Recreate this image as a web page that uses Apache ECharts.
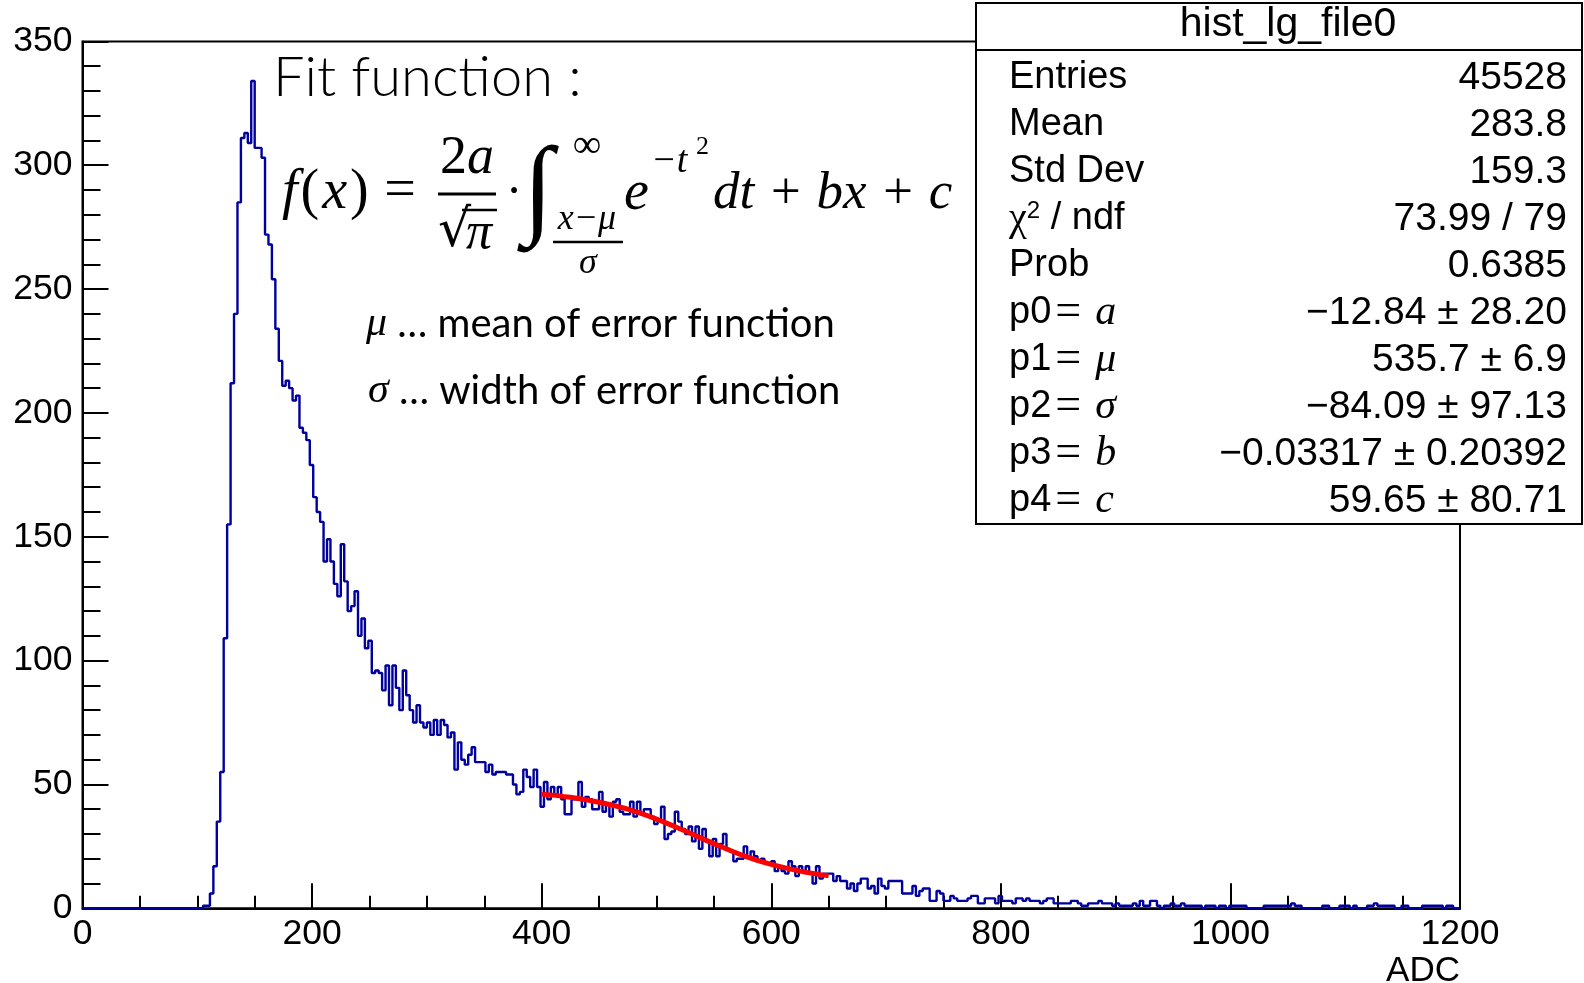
<!DOCTYPE html>
<html>
<head>
<meta charset="utf-8">
<script src="https://cdn.jsdelivr.net/npm/echarts@6/dist/echarts.min.js"></script>
<style>
  html, body { margin: 0; padding: 0; background: #fff; }
  #chart { width: 1584px; height: 983px; }
</style>
</head>
<body>
<div id="chart"></div>
<script>
// histogram: 400 bins of 3 ADC counts each
const binStart = 0
const binWidth = 3
const counts = [
  0,0,0,0,0,0,0,0,0,0,0,0,0,0,0,0,0,0,0,0,
  0,0,0,0,0,0,0,0,0,0,0,0,0,0,0,1,1,6,17,35,
  55,109,155,212,240,285,311,313,309,334,307,307,303,272,268,254,234,221,211,213,
  210,205,207,194,192,189,179,166,160,156,140,149,140,131,126,147,132,120,122,128,
  110,117,105,108,95,96,95,88,98,82,98,89,80,96,86,80,75,82,75,73,
  75,70,76,70,76,74,69,71,56,67,60,58,62,65,59,59,59,55,58,54,
  55,55,55,54,54,50,46,47,56,53,49,56,49,41,51,44,49,46,49,44,
  38,38,44,44,51,41,45,44,40,40,47,39,42,37,43,44,39,38,38,43,
  37,43,38,40,40,37,34,36,41,28,30,31,39,35,32,30,33,27,33,24,
  32,27,21,28,21,26,30,24,23,19,20,20,25,21,23,21,19,20,18,18,
  19,15,17,15,14,19,17,13,17,15,17,14,10,17,12,14,14,14,11,13,
  11,11,8,10,7,10,12,12,8,9,6,12,9,8,11,11,11,11,6,6,
  6,9,5,7,8,8,3,3,7,6,3,3,5,4,3,3,3,4,5,5,
  2,2,4,4,4,2,5,3,3,3,2,4,4,3,4,3,3,3,2,3,
  4,4,2,2,2,2,2,3,3,2,1,1,2,2,2,3,2,2,2,1,
  2,1,1,1,1,2,1,3,1,1,3,3,1,0,1,1,2,1,1,2,
  1,1,1,1,1,0,1,1,1,0,1,1,0,1,1,1,1,1,0,0,
  0,0,0,1,1,1,1,1,1,1,1,2,1,1,0,0,0,0,0,0,
  1,1,0,0,0,1,1,1,0,1,0,0,0,1,1,2,1,1,1,1,
  1,0,0,1,1,0,0,0,0,1,1,1,1,1,1,0,1,1,0,0
]

// red fit curve, read at every 25 ADC
const fitX = [400, 425, 450, 475, 500, 525, 550, 575, 600, 625, 650]
const fitY = [46.1, 44.8, 42.8, 40.0, 36.0, 31.2, 26.1, 21.4, 17.7, 15.0, 13.1]

// axes
const xMin = 0, xMax = 1200, xStep = 200
const yMin = 0, yMax = 350, yStep = 50

// stat box
const statTitle = 'hist_lg_file0'
const statLabels = ['Entries', 'Mean', 'Std Dev', '{chi|χ}{sup|2} / ndf', 'Prob',
  'p0{eq|=}{it|a}', 'p1{eq|=}{it|μ}', 'p2{eq|=}{it|σ}', 'p3{eq|=}{it|b}', 'p4{eq|=}{it|c}']
const statValues = ['45528', '283.8', '159.3', '73.99 / 79', '0.6385',
  '−12.84 ± 28.20', '535.7 ± 6.9', '−84.09 ± 97.13', '−0.03317 ± 0.20392', '59.65 ± 80.71']

const chart = echarts.init(document.getElementById('chart'))

const histData = counts.map((v, i) => [binStart + i * binWidth, v])
histData.push([binStart + counts.length * binWidth, counts[counts.length - 1]])
const fitData = fitX.map((x, i) => [x, fitY[i]])

const SANS = 'Liberation Sans'
const SERIF = 'Liberation Serif'

function txt(x, y, text, size, extra) {
  return {
    type: 'text', x: x, y: y, z: 50,
    style: Object.assign({
      text: text, fontSize: size, fontFamily: SERIF, fill: '#000',
      align: 'left', verticalAlign: 'middle'
    }, extra || {})
  }
}
function hline(x1, x2, y, w) {
  return { type: 'line', z: 50, shape: { x1: x1, y1: y, x2: x2, y2: y }, style: { stroke: '#000', lineWidth: w } }
}

const graphics = []

// stat box
graphics.push({ type: 'rect', z: 100, shape: { x: 976, y: 3, width: 606, height: 521 },
  style: { fill: '#fff', stroke: '#000', lineWidth: 2 } })
graphics.push(Object.assign(hline(976, 1582, 50, 2), { z: 101 }))
graphics.push(Object.assign(txt(1288, 25, statTitle, 41, { fontFamily: SANS, align: 'center' }), { z: 101 }))
const statRich = {
  chi: { fontFamily: SERIF, fontSize: 40 },
  sup: { fontFamily: SANS, fontSize: 24, verticalAlign: 'top', padding: [0, 0, 14, 0] },
  eq: { fontFamily: SERIF, fontSize: 46, padding: [0, 14, 0, 4] },
  it: { fontFamily: SERIF, fontSize: 42, fontStyle: 'italic' }
}
statLabels.forEach((lab, k) => {
  const y = 78 + k * 47
  graphics.push(Object.assign(txt(1009, y, lab, 38, { fontFamily: SANS, rich: statRich }), { z: 101 }))
  graphics.push(Object.assign(txt(1567, y, statValues[k], 39, { fontFamily: SANS, align: 'right' }), { z: 101 }))
})

// annotation: fit function
graphics.push(txt(273, 78, 'Fit function :', 56, { fontFamily: 'Lato', fontWeight: 300 }))
graphics.push(txt(282, 193, '{i|f}{n|(}{i|x}{n|)}', 56, {
  rich: { i: { fontStyle: 'italic', fontFamily: SERIF, fontSize: 56 }, n: { fontFamily: SERIF, fontSize: 56, padding: [0, 3, 0, 3] } } }))
graphics.push(txt(400, 192, '=', 56, { align: 'center' }))
graphics.push(txt(467, 159, '2{i|a}', 54, { align: 'center',
  rich: { i: { fontStyle: 'italic', fontFamily: SERIF, fontSize: 54 } } }))
graphics.push(hline(438, 496, 194, 3))
graphics.push(txt(438, 232, '√', 52, { fontFamily: 'DejaVu Serif' }))
graphics.push(hline(462, 497, 210, 2.5))
graphics.push(txt(479, 234, 'π', 52, { align: 'center', fontStyle: 'italic' }))
graphics.push(txt(514, 194, '·', 50, { align: 'center' }))
graphics.push(txt(538, 194, '∫', 110, { align: 'center', fontFamily: SERIF, fontStyle: 'italic' }))
graphics.push(txt(587, 146, '∞', 40, { align: 'center' }))
graphics.push(txt(587, 220, 'x−μ', 36, { align: 'center', fontStyle: 'italic' }))
graphics.push(hline(553, 623, 242, 2.5))
graphics.push(txt(588, 264, 'σ', 36, { align: 'center', fontStyle: 'italic' }))
graphics.push(txt(624, 194, 'e', 56, { fontStyle: 'italic' }))
graphics.push(txt(651, 162, '−t', 38, { fontStyle: 'italic' }))
graphics.push(txt(696, 147, '2', 26))
graphics.push(txt(713, 194, 'dt + bx + c', 53, { fontStyle: 'italic' }))

// explanation lines
const noteRich = { g: { fontFamily: SERIF, fontStyle: 'italic', fontSize: 42 } }
graphics.push(txt(366, 324, '{g|μ} … mean of error function', 40, { fontFamily: 'Lato', rich: noteRich }))
graphics.push(txt(368, 391, '{g|σ} … width of error function', 40, { fontFamily: 'Lato', rich: noteRich }))

const axisCommon = {
  type: 'value',
  axisLine: { show: true, onZero: false, lineStyle: { color: '#000', width: 2 } },
  axisTick: { show: true, inside: true, length: 25, lineStyle: { color: '#000', width: 2 } },
  minorTick: { show: true, length: 12.5, lineStyle: { color: '#000', width: 2 } },
  splitLine: { show: false },
  minorSplitLine: { show: false },
  axisLabel: { color: '#000', fontSize: 35.5, fontFamily: SANS, formatter: v => String(v) }
}

const option = {
  animation: false,
  backgroundColor: '#fff',
  grid: {
    left: 82.5, right: 124, top: 41.4, bottom: 74.7,
    outerBoundsMode: 'none', containLabel: false,
    show: true, borderColor: '#000', borderWidth: 2
  },
  xAxis: Object.assign({}, axisCommon, {
    min: xMin, max: xMax, interval: xStep,
    minorTick: Object.assign({}, axisCommon.minorTick, { splitNumber: 4 }),
    axisLabel: Object.assign({}, axisCommon.axisLabel, { margin: 8 }),
    name: 'ADC', nameLocation: 'end', nameGap: 0,
    nameTextStyle: { color: '#000', fontSize: 35, fontFamily: SANS, align: 'right', verticalAlign: 'top', padding: [46, 0, 0, 0] }
  }),
  yAxis: Object.assign({}, axisCommon, {
    min: yMin, max: yMax, interval: yStep,
    axisTick: Object.assign({}, axisCommon.axisTick, { length: 26 }),
    minorTick: Object.assign({}, axisCommon.minorTick, { splitNumber: 5, length: 18 }),
    axisLabel: Object.assign({}, axisCommon.axisLabel, { margin: 10 })
  }),
  series: [
    {
      type: 'line', step: 'end', data: histData, symbol: 'none',
      lineStyle: { color: '#00009c', width: 2.4 }, z: 2
    },
    {
      type: 'line', smooth: 0.4, data: fitData, symbol: 'none', zlevel: 1,
      lineStyle: { color: '#ff0000', width: 5 }
    }
  ],
  graphic: graphics
}

chart.setOption(option)
</script>
</body>
</html>
